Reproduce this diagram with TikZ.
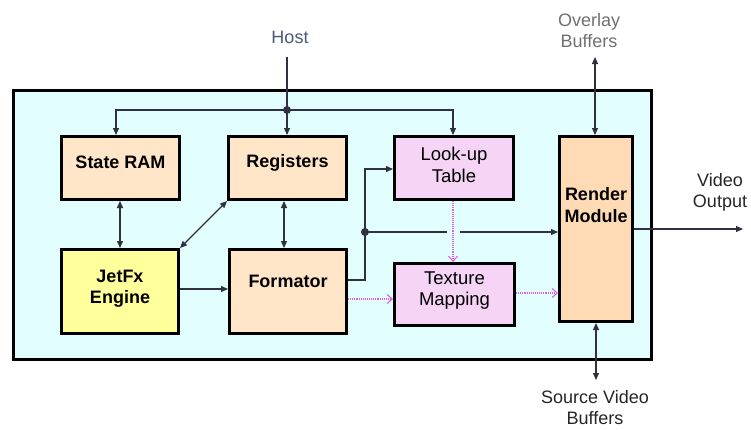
\documentclass[tikz,border=0pt]{standalone}
\usepackage{fontspec}
\setmainfont{Liberation Sans}
\usetikzlibrary{arrows.meta}
\definecolor{panel}{HTML}{E2FEFE}
\definecolor{peach}{HTML}{FFE6C8}
\definecolor{lemon}{HTML}{FFFF9C}
\definecolor{lilac}{HTML}{F6D4F6}
\definecolor{apricot}{HTML}{FFDBB5}
\definecolor{wirecol}{HTML}{303040}
\definecolor{pinkline}{HTML}{E060E0}
\definecolor{hostcol}{HTML}{505878}
\definecolor{overcol}{HTML}{707070}
\begin{document}
\begin{tikzpicture}[x=1pt,y=-1pt,
  blk/.style={draw=black,line width=3pt,inner sep=0pt},
  btxt/.style={font=\fontsize{18}{21.5}\selectfont\bfseries,align=center},
  rtxt/.style={font=\fontsize{18.5}{21.5}\selectfont,align=center},
  lab/.style={font=\fontsize{18}{21}\selectfont,align=center,inner sep=0pt},
  wire/.style={draw=wirecol,line width=1.3pt},
  tip/.style={-{Triangle[length=7pt,width=6pt]}},
  both/.style={{Triangle[length=7pt,width=6pt]}-{Triangle[length=7pt,width=6pt]}},
  pinkw/.style={draw=pinkline,line width=1.1pt,densely dotted,
    -{Straight Barb[length=5pt,width=9pt,line width=1.1pt]}}]
\useasboundingbox (0,0) rectangle (751,429);
\fill[white] (0,0) rectangle (751,429);

% enclosing board
\node[blk,fill=panel,minimum width=638pt,minimum height=269pt] (board) at (332.5,225) {};

% functional blocks
\node[blk,fill=peach,minimum width=118pt,minimum height=63pt,
  label={[btxt,yshift=6pt]center:State RAM}] (ram) at (120.5,168) {};
\node[blk,fill=peach,minimum width=118pt,minimum height=63pt,
  label={[btxt,yshift=5pt]center:Registers}] (reg) at (287.5,168) {};
\node[blk,fill=lemon,minimum width=117pt,minimum height=84pt,
  label={[btxt,yshift=3pt]center:JetFx\\Engine}] (jet) at (120,291.5) {};
\node[blk,fill=peach,minimum width=117pt,minimum height=84pt,
  label={[btxt,yshift=10pt]center:Formator}] (fmt) at (288,291.5) {};
\node[blk,fill=lilac,minimum width=119pt,minimum height=63pt,
  label={[rtxt,yshift=3pt]center:Look-up\\Table}] (lut) at (454,168) {};
\node[blk,fill=lilac,minimum width=120pt,minimum height=62pt,
  label={[rtxt,yshift=4pt]center:Texture\\Mapping}] (tex) at (454.5,294.5) {};
\node[blk,fill=apricot,minimum width=73pt,minimum height=185pt,
  label={[btxt,yshift=24pt]center:Render\\Module}] (ren) at (596,229) {};

% outside labels
\node[lab,text=hostcol] (host) at (290,37) {Host};
\node[lab,text=overcol] (ovltxt) at (589,31) {Overlay\\Buffers};
\node[lab,text=black!85] (vtxt) at (720,192) {Video\\Output};
\node[lab,text=black!85] (srctxt) at (595,408) {Source Video\\Buffers};

% helper points
\coordinate (hostend) at (287,57);
\coordinate (j1) at (287,110);
\coordinate (j2) at (365,232);
\coordinate (y169) at (0,169);
\coordinate (y280) at (0,280);
\coordinate (y289) at (0,289);
\coordinate (y293) at (0,293);
\coordinate (y299) at (0,299);
\coordinate (gapL) at (447,232);
\coordinate (gapR) at (460,232);
\coordinate (vout) at (743,229);
\coordinate (ovl) at (595,57);
\coordinate (src) at (596,380);

% host bus
\draw[wire,tip] (hostend) -- (hostend |- reg.north);
\draw[wire,tip] (j1) -| ([xshift=-4.5pt]ram.north);
\draw[wire,tip] (j1) -| ([xshift=-1pt]lut.north);
\fill[wirecol] (j1) circle (4pt);

% internal links
\draw[wire,both] ([xshift=-0.5pt]ram.south) -- ([xshift=-0.5pt]ram.south |- jet.north);
\draw[wire,both] ([xshift=-3.5pt]reg.south) -- ([xshift=-3.5pt]reg.south |- fmt.north);
\draw[wire,both] (jet.north east) -- (reg.south west);
\draw[wire,tip] (jet.east |- y289) -- (fmt.west |- y289);

% formator outputs
\draw[wire,tip] (fmt.east |- y280) -| (j2) |- (lut.west |- y169);
\draw[wire] (j2) -- (gapL);
\draw[wire,tip] (gapR) -- (ren.west |- j2);
\fill[wirecol] (j2) circle (4pt);

% texture path
\draw[pinkw] ([xshift=-1pt]lut.south) -- ([xshift=-1pt]lut.south |- tex.north);
\draw[pinkw] (fmt.east |- y299) -- (tex.west |- y299);
\draw[pinkw] (tex.east |- y293) -- (ren.west |- y293);

% render module I/O
\draw[wire,tip] (ren.east) -- (vout);
\draw[wire,both] (ovl) -- (ovl |- ren.north);
\draw[wire,both] (ren.south -| src) -- (src);
\end{tikzpicture}
\end{document}
